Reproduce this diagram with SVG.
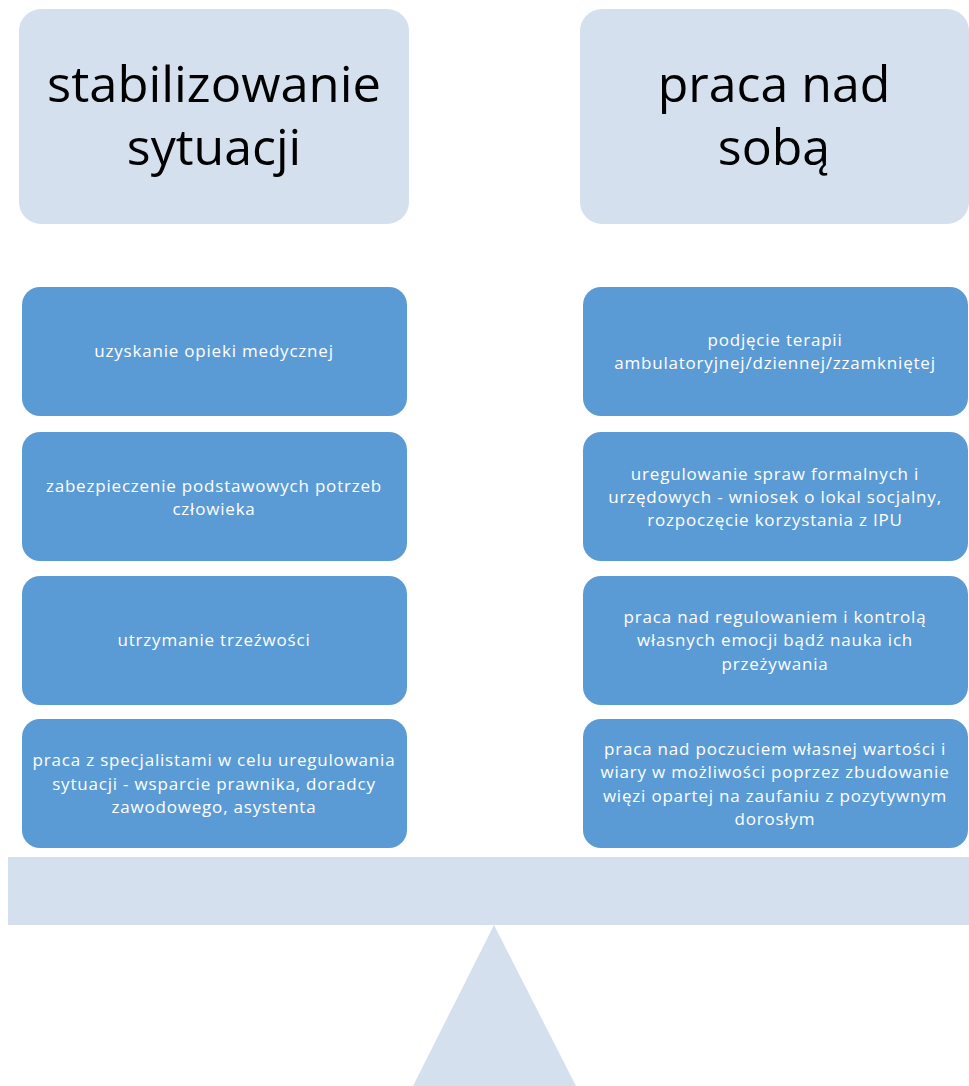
<svg xmlns="http://www.w3.org/2000/svg" width="969" height="1086" viewBox="0 0 969 1086">
<style>
.head{fill:#D5E0EF}
.item{fill:#5B9BD5}
.ht{font-family:"Open Sans","Noto Sans",sans-serif;font-size:50px;fill:#000;text-anchor:middle}
.it{font-family:"Open Sans","Noto Sans",sans-serif;font-size:17px;letter-spacing:0.8px;fill:#fff;text-anchor:middle}
</style>
<rect width="969" height="1086" fill="#fff"/>
<g id="head-left"><rect class="head" x="19" y="9" width="390" height="215" rx="22"/>
<text class="ht" x="214" y="102" textLength="334" lengthAdjust="spacingAndGlyphs">stabilizowanie</text>
<text class="ht" x="214" y="165">sytuacji</text></g>
<g id="head-right"><rect class="head" x="580" y="9" width="389" height="215" rx="22"/>
<text class="ht" x="774" y="102">praca nad</text>
<text class="ht" x="774" y="165">sobą</text></g>

<g id="l1"><rect class="item" x="22" y="287" width="385" height="129" rx="18"/>
<text class="it" x="214" y="357">uzyskanie opieki medycznej</text></g>
<g id="l2"><rect class="item" x="22" y="432" width="385" height="129" rx="18"/>
<text class="it" x="214" y="492">zabezpieczenie podstawowych potrzeb</text>
<text class="it" x="214" y="515">człowieka</text></g>
<g id="l3"><rect class="item" x="22" y="576" width="385" height="129" rx="18"/>
<text class="it" x="214" y="646">utrzymanie trzeźwości</text></g>
<g id="l4"><rect class="item" x="22" y="719" width="385" height="129" rx="18"/>
<text class="it" x="214" y="766">praca z specjalistami w celu uregulowania</text>
<text class="it" x="214" y="790">sytuacji - wsparcie prawnika, doradcy</text>
<text class="it" x="214" y="813">zawodowego, asystenta</text></g>

<g id="r1"><rect class="item" x="583" y="287" width="385" height="129" rx="18"/>
<text class="it" x="775" y="346">podjęcie terapii</text>
<text class="it" x="775" y="369">ambulatoryjnej/dziennej/zzamkniętej</text></g>
<g id="r2"><rect class="item" x="583" y="432" width="385" height="129" rx="18"/>
<text class="it" x="775" y="480">uregulowanie spraw formalnych i</text>
<text class="it" x="775" y="503">urzędowych - wniosek o lokal socjalny,</text>
<text class="it" x="775" y="526">rozpoczęcie korzystania z IPU</text></g>
<g id="r3"><rect class="item" x="583" y="576" width="385" height="129" rx="18"/>
<text class="it" x="775" y="623">praca nad regulowaniem i kontrolą</text>
<text class="it" x="775" y="646">własnych emocji bądź nauka ich</text>
<text class="it" x="775" y="670">przeżywania</text></g>
<g id="r4"><rect class="item" x="583" y="719" width="385" height="129" rx="18"/>
<text class="it" x="775" y="755">praca nad poczuciem własnej wartości i</text>
<text class="it" x="775" y="778">wiary w możliwości poprzez zbudowanie</text>
<text class="it" x="775" y="802">więzi opartej na zaufaniu z pozytywnym</text>
<text class="it" x="775" y="825">dorosłym</text></g>

<g id="beam"><rect class="head" x="8" y="857" width="961" height="68"/></g>
<g id="fulcrum"><polygon class="head" points="494,925 576,1086 413,1086"/></g>
<g id="connectors"></g>
</svg>
